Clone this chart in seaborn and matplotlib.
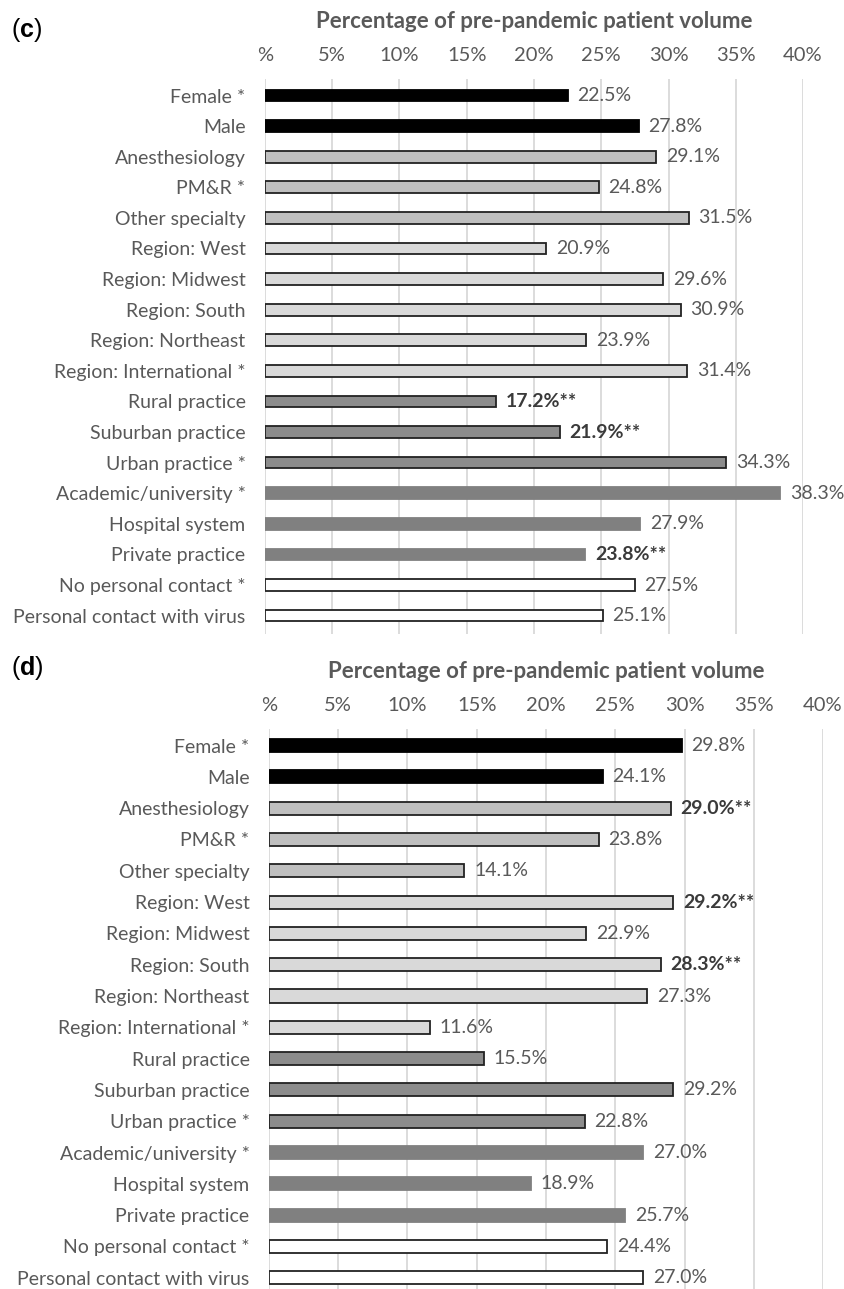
import matplotlib
matplotlib.use("Agg")
import matplotlib.pyplot as plt
import seaborn as sns
import pandas as pd

# ---------------- data ----------------
categories = ["Female *", "Male", "Anesthesiology", "PM&R *", "Other specialty",
              "Region: West", "Region: Midwest", "Region: South", "Region: Northeast",
              "Region: International *", "Rural practice", "Suburban practice",
              "Urban practice *", "Academic/university *", "Hospital system",
              "Private practice", "No personal contact *", "Personal contact with virus"]
groups = ["gender", "gender", "specialty", "specialty", "specialty",
          "region", "region", "region", "region", "region",
          "setting", "setting", "setting",
          "practice", "practice", "practice",
          "contact", "contact"]
values_c = [22.5, 27.8, 29.1, 24.8, 31.5, 20.9, 29.6, 30.9, 23.9, 31.4,
            17.2, 21.9, 34.3, 38.3, 27.9, 23.8, 27.5, 25.1]
signif_c = [False, False, False, False, False, False, False, False, False, False,
            True, True, False, False, False, True, False, False]
values_d = [29.8, 24.1, 29.0, 23.8, 14.1, 29.2, 22.9, 28.3, 27.3, 11.6,
            15.5, 29.2, 22.8, 27.0, 18.9, 25.7, 24.4, 27.0]
signif_d = [False, False, True, False, False, True, False, True, False, False,
            False, False, False, False, False, False, False, False]
tick_values = [0, 5, 10, 15, 20, 25, 30, 35, 40]
tick_labels = ["%", "5%", "10%", "15%", "20%", "25%", "30%", "35%", "40%"]
x_title = "Percentage of pre-pandemic patient volume"

# ---------------- style ----------------
face = {"gender": "#000000", "specialty": "#bfbfbf", "region": "#d9d9d9",
        "setting": "#8c8c8c", "practice": "#808080", "contact": "#ffffff"}
edge = {"gender": "#000000", "specialty": "#222222", "region": "#222222",
        "setting": "#222222", "practice": "#808080", "contact": "#222222"}

sns.set_style("white")
plt.rcParams["font.family"] = ["Lato", "DejaVu Sans"]
plt.rcParams["mathtext.fontset"] = "custom"
plt.rcParams["mathtext.rm"] = "Liberation Sans"
plt.rcParams["mathtext.bf"] = "Liberation Sans:bold"

TXT = "#595959"
W, H = 845, 1289
fig = plt.figure(figsize=(W / 100, H / 100), dpi=100)


def add_ax(left, right, top, bottom):
    return fig.add_axes([left / W, 1 - bottom / H, (right - left) / W, (bottom - top) / H])


def panel(ax, values, signif, ylim, width, letter, letter_y, title_y):
    df = pd.DataFrame({"cat": categories, "val": values})
    pal = {c: face[g] for c, g in zip(categories, groups)}
    sns.barplot(data=df, x="val", y="cat", hue="cat", palette=pal, order=categories,
                hue_order=categories, orient="h", width=width, legend=False,
                saturation=1, ax=ax)
    for cont, g in zip(ax.containers, groups):
        for p in cont:
            p.set_edgecolor(edge[g])
            p.set_linewidth(1.3)
    for cont, v, s in zip(ax.containers, values, signif):
        lab = f"{v:.1f}%" + ("**" if s else "")
        txts = ax.bar_label(cont, labels=[lab], padding=7, fontsize=14, color=TXT)
        if s:
            for t in txts:
                t.set_fontweight("bold")
                t.set_color("#3a3a3a")
    ax.set_xlim(0, 40)
    ax.set_ylim(*ylim)
    ax.set_xticks(tick_values)
    ax.set_xticklabels(tick_labels)
    ax.xaxis.tick_top()
    ax.tick_params(axis="x", length=0, pad=11, labelsize=14.5, labelcolor=TXT)
    ax.tick_params(axis="y", length=0, pad=14, labelsize=14, labelcolor=TXT)
    ax.set_xlabel("")
    ax.set_ylabel("")
    ax.grid(axis="x", color="#d9d9d9", linewidth=1.3)
    ax.grid(axis="y", visible=False)
    ax.set_axisbelow(True)
    for s in ax.spines.values():
        s.set_visible(False)
    pos = ax.get_position()
    fig.text(pos.x0 + pos.width / 2, 1 - title_y / H, x_title, ha="center", va="center",
             fontsize=16, fontweight="bold", color=TXT)
    fig.text(11 / W, 1 - letter_y / H, r"($\mathbf{" + letter + r"}$)", ha="left",
             va="center", fontsize=18, color="black", family="Liberation Sans")


ax_c = add_ax(265, 803, 79, 634)
panel(ax_c, values_c, signif_c, (17.6, -0.54), 0.38, "c", 30, 22)
ax_d = add_ax(269, 823, 729, 1289)
panel(ax_d, values_d, signif_d, (17.36, -0.53), 0.42, "d", 668, 671)

fig.savefig("out.png", dpi=100, facecolor="white")
